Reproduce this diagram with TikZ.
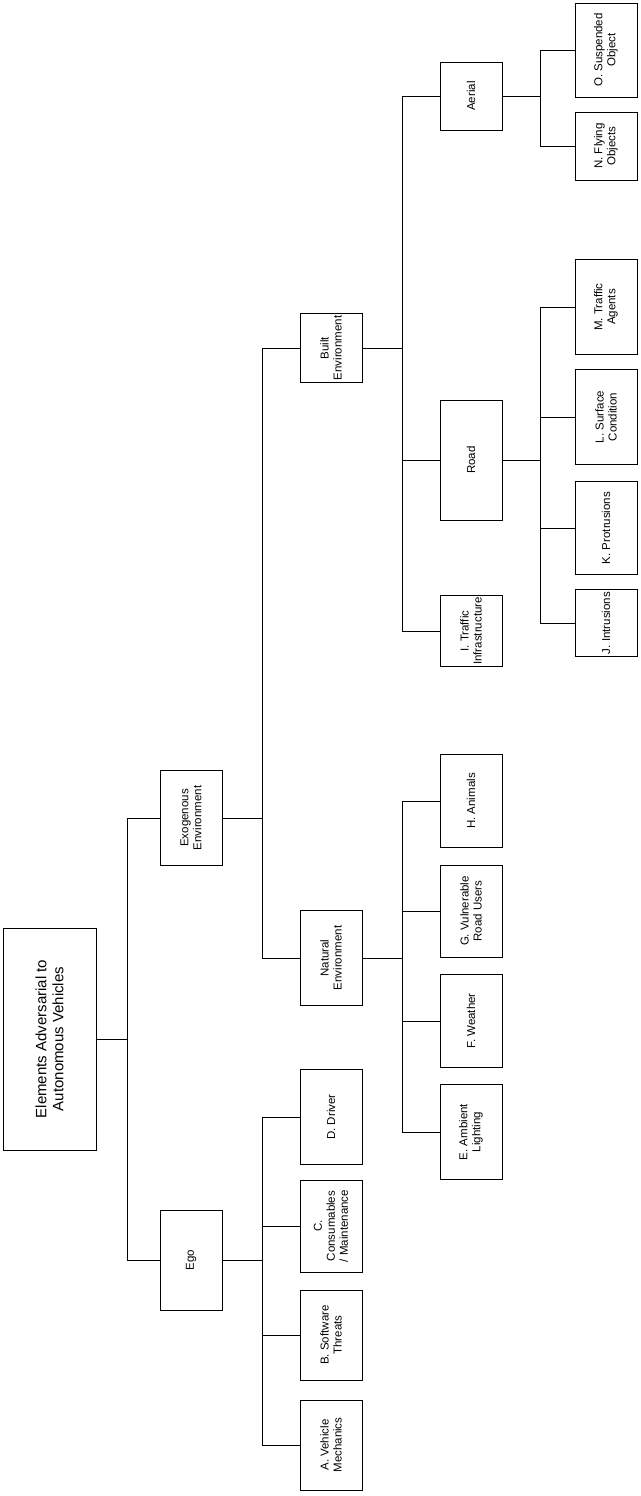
\documentclass[tikz,border=0pt]{standalone}
\usepackage{fontspec}
\setmainfont{Liberation Sans}
\begin{document}
\begin{tikzpicture}[x=1pt,y=-1pt,
  bx/.style={draw,thick,rotate=90,align=center,minimum height=62pt,inner sep=2pt,font=\fontsize{11.5}{13}\selectfont},
  ln/.style={thick}]
\useasboundingbox (0,0) rectangle (640,1496);
\node[bx,minimum width=222pt,minimum height=93pt,font=\fontsize{15}{17}\selectfont] (root) at (49.5,1039) {Elements Adversarial to\\Autonomous Vehicles};
\node[bx,minimum width=100pt] (ego) at (191,1260) {Ego};
\node[bx,minimum width=95pt] (exo) at (191,818) {Exogenous\\Environment};
\node[bx,minimum width=90pt] (A) at (331,1445) {A. Vehicle\\Mechanics};
\node[bx,minimum width=90pt] (B) at (331,1335) {B. Software\\Threats};
\node[bx,minimum width=92pt] (C) at (331,1226) {C.\\Consumables\\/ Maintenance};
\node[bx,minimum width=95pt] (D) at (331,1117) {D. Driver};
\node[bx,minimum width=95pt] (nat) at (331,958) {Natural\\Environment};
\node[bx,minimum width=67pt] (blt) at (331,348) {Built\\Environment};
\node[bx,minimum width=95pt] (E) at (471,1132) {E. Ambient\\Lighting};
\node[bx,minimum width=93pt] (F) at (471,1021) {F. Weather};
\node[bx,minimum width=92pt] (G) at (471,911) {G. Vulnerable\\Road Users};
\node[bx,minimum width=93pt] (H) at (471,801) {H. Animals};
\node[bx,minimum width=67pt] (I) at (471,631) {I. Traffic\\Infrastructure};
\node[bx,minimum width=120pt] (road) at (471,460) {Road};
\node[bx,minimum width=68pt] (aer) at (471,96) {Aerial};
\node[bx,minimum width=67pt] (J) at (606,623) {J. Intrusions};
\node[bx,minimum width=93pt] (K) at (606,528) {K. Protrusions};
\node[bx,minimum width=95pt] (L) at (606,417) {L. Surface\\Condition};
\node[bx,minimum width=95pt] (M) at (606,307) {M. Traffic\\Agents};
\node[bx,minimum width=68pt] (N) at (606,146) {N. Flying\\Objects};
\node[bx,minimum width=94pt] (O) at (606,50) {O. Suspended\\Object};
\foreach \c in {ego,exo} \draw[ln] (root.south) -- ++(31,0) |- (\c.north);
\foreach \c in {A,B,C,D} \draw[ln] (ego.south) -- ++(40,0) |- (\c.north);
\foreach \c in {nat,blt} \draw[ln] (exo.south) -- ++(40,0) |- (\c.north);
\foreach \c in {E,F,G,H} \draw[ln] (nat.south) -- ++(40,0) |- (\c.north);
\foreach \c in {I,road,aer} \draw[ln] (blt.south) -- ++(40,0) |- (\c.north);
\foreach \c in {J,K,L,M} \draw[ln] (road.south) -- ++(38,0) |- (\c.north);
\foreach \c in {N,O} \draw[ln] (aer.south) -- ++(38,0) |- (\c.north);
\end{tikzpicture}
\end{document}
